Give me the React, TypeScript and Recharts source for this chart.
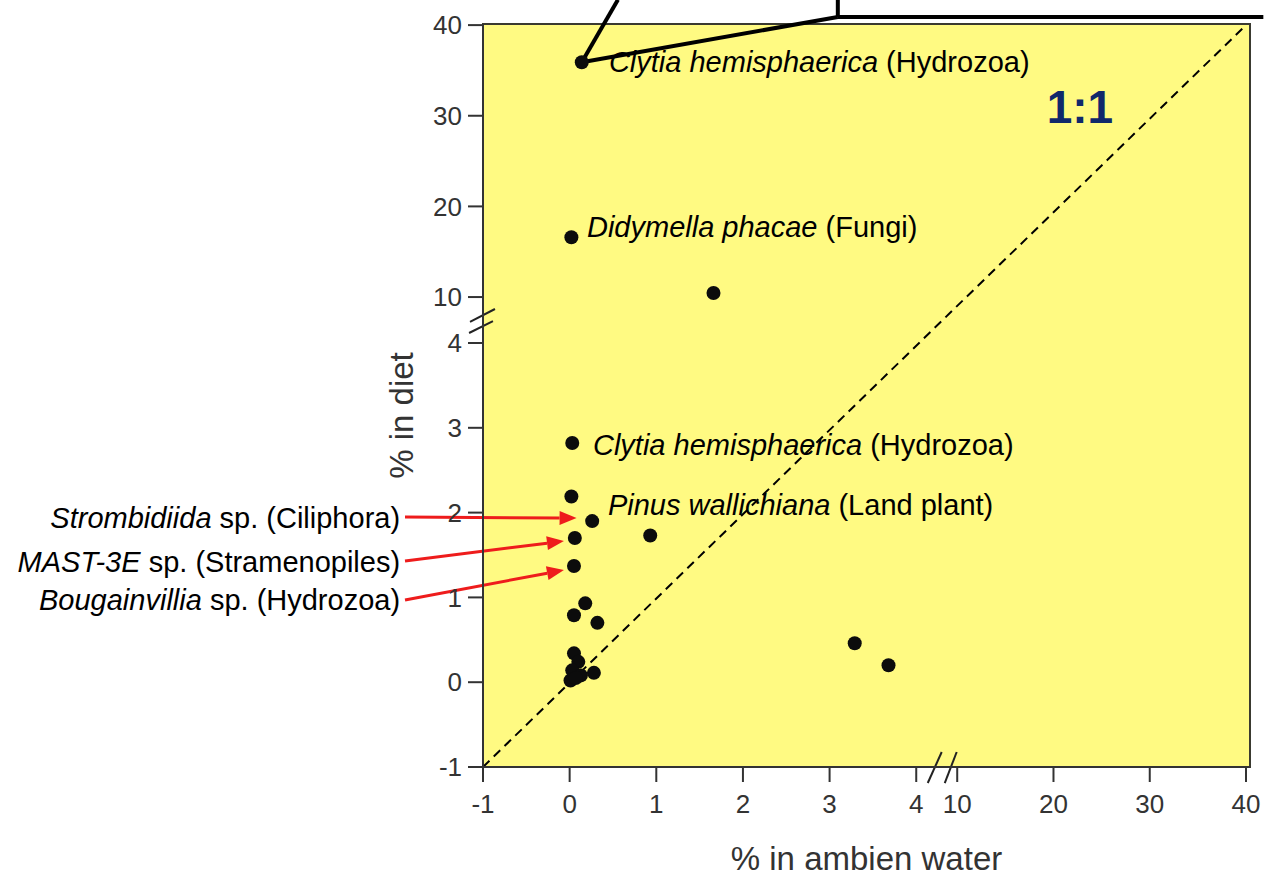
import React from 'react';
import { ScatterChart, Scatter, XAxis, YAxis, ReferenceArea, ReferenceLine, ReferenceDot } from 'recharts';

// ---- broken-axis mapping (value -> plotted unit) ----
const LOW_MAX = 4;
const X_GAP = 0.473;
const X_HIGH_SCALE = 0.1111;
const Y_GAP = 0.542;
const Y_HIGH_SCALE = 0.1069;
const tx = (v: number) => (v <= LOW_MAX ? v : LOW_MAX + X_GAP + (v - 10) * X_HIGH_SCALE);
const ty = (v: number) => (v <= LOW_MAX ? v : LOW_MAX + Y_GAP + (v - 10) * Y_HIGH_SCALE);

const X_MAX = 7.852;
const Y_MAX = 7.762;

// ---- tick labels ----
const xTickLabels = [-1, 0, 1, 2, 3, 4, 10, 20, 30, 40];
const yTickLabels = [-1, 0, 1, 2, 3, 4, 10, 20, 30, 40];

// ---- series values ----
const ambientWater = [0.14, 0.02, 1.66, 0.03, 0.02, 0.26, 0.93, 0.06, 0.05, 0.05, 0.18, 0.32, 3.29, 3.68, 0.05, 0.1, 0.03, 0.13, 0.28, 0.01, 0.07];
const diet = [35.9, 16.6, 10.44, 2.82, 2.19, 1.9, 1.73, 1.7, 1.37, 0.79, 0.93, 0.7, 0.46, 0.2, 0.34, 0.24, 0.14, 0.08, 0.11, 0.02, 0.05];

// ---- annotations ----
const speciesItalic = ['Clytia hemisphaerica', 'Didymella phacae', 'Clytia hemisphaerica', 'Pinus wallichiana', 'Strombidiida', 'MAST-3E', 'Bougainvillia'];
const speciesRest = [' (Hydrozoa)', ' (Fungi)', ' (Hydrozoa)', ' (Land plant)', ' sp. (Ciliphora)', ' sp. (Stramenopiles)', ' sp. (Hydrozoa)'];
const speciesX = [0.453, 0.2, 0.269, 0.442, -1.957, -1.957, -1.957];
const speciesY = [34.82, 16.62, 2.679, 1.972, 1.818, 1.3, 0.851];
const speciesAnchor = ['start', 'start', 'start', 'start', 'end', 'end', 'end'];

const arrowFrom = [[-1.9, 1.948], [-1.9, 1.429], [-1.9, 0.969]];
const arrowTo = [[0.08, 1.936], [-0.066, 1.665], [-0.066, 1.323]];

// callout lines (real units)
const calloutSegments = [
  [[0.14, 35.9], [0.557, 42.8]],
  [[0.14, 35.9], [3.095, 40.9]],
  [[3.095, 40.9], [3.095, 42.8]],
  [[3.095, 40.9], [41.8, 40.9]],
];

// axis break marks (plotted units, inside the gaps)
const breakSegments = [
  [[-1.15, 4.248], [-0.862, 4.401]],
  [[-1.161, 4.118], [-0.885, 4.259]],
  [[4.133, -1.189], [4.294, -0.823]],
  [[4.329, -1.189], [4.467, -0.823]],
];

const FONT = 'Liberation Sans, Arial, Helvetica, sans-serif';

const points = ambientWater.map((v, i) => ({ px: tx(v), py: ty(diet[i]) }));
const xTicks = xTickLabels.map(tx);
const yTicks = yTickLabels.map(ty);

const fmt = (ticks: number[], labels: number[]) => (v: number) => {
  const i = ticks.findIndex((t) => Math.abs(t - v) < 1e-6);
  return i >= 0 ? String(labels[i]) : '';
};

const ArrowShape = (p: any) => {
  const { x1, y1, x2, y2 } = p;
  const ang = Math.atan2(y2 - y1, x2 - x1);
  const L = 17;
  const W = 7;
  const bx = x2 - L * Math.cos(ang);
  const by = y2 - L * Math.sin(ang);
  const nx = -Math.sin(ang) * W;
  const ny = Math.cos(ang) * W;
  return (
    <g>
      <line x1={x1} y1={y1} x2={bx} y2={by} stroke="#ee1c1c" strokeWidth={3} />
      <polygon points={`${x2},${y2} ${bx + nx},${by + ny} ${bx - nx},${by - ny}`} fill="#ee1c1c" />
    </g>
  );
};

const Dot = (p: any) => <circle cx={p.cx} cy={p.cy} r={7} fill="#0c0c0c" />;

export default function App() {
  return (
    <div style={{ position: 'fixed', left: 0, top: 0, width: 1264, height: 879, overflow: 'hidden', background: '#fff' }}>
      <ScatterChart width={1264} height={879} margin={{ top: 24, right: 14, left: 423, bottom: 62 }}>
        <ReferenceArea x1={-1} x2={X_MAX} y1={-1} y2={Y_MAX} fill="#FFFA82" fillOpacity={1} stroke="#3a3a30" strokeWidth={2} ifOverflow="visible" />
        <XAxis
          type="number"
          dataKey="px"
          domain={[-1, X_MAX]}
          ticks={xTicks}
          interval={0}
          allowDataOverflow
          tickFormatter={fmt(xTicks, xTickLabels)}
          height={50}
          tickSize={15}
          tickMargin={13}
          axisLine={{ stroke: '#333', strokeWidth: 2 }}
          tickLine={{ stroke: '#333', strokeWidth: 2 }}
          tick={{ fill: '#333', fontSize: 26, fontFamily: FONT }}
          label={{
            content: (lp: any) => {
              const vb = lp.viewBox;
              return (
                <text x={vb.x + vb.width / 2} y={870} textAnchor="middle" fill="#333" fontSize={33} fontFamily={FONT}>
                  % in ambien water
                </text>
              );
            },
          }}
        />
        <YAxis
          type="number"
          dataKey="py"
          domain={[-1, Y_MAX]}
          ticks={yTicks}
          interval={0}
          allowDataOverflow
          tickFormatter={fmt(yTicks, yTickLabels)}
          width={60}
          tickSize={15}
          tickMargin={6}
          axisLine={{ stroke: '#333', strokeWidth: 2 }}
          tickLine={{ stroke: '#333', strokeWidth: 2 }}
          tick={{ fill: '#333', fontSize: 26, fontFamily: FONT }}
          label={{
            content: (lp: any) => {
              const vb = lp.viewBox;
              const x = vb.x - 10;
              const y = vb.y + vb.height / 2 + 20;
              return (
                <text x={x} y={y} transform={`rotate(-90, ${x}, ${y})`} textAnchor="middle" fill="#333" fontSize={33} fontFamily={FONT}>
                  % in diet
                </text>
              );
            },
          }}
        />
        <ReferenceLine
          segment={[{ x: tx(-1), y: ty(-1) }, { x: tx(40), y: ty(40) }]}
          stroke="#000"
          strokeWidth={2}
          strokeDasharray="9 6"
          ifOverflow="visible"
        />
        {breakSegments.map((s, i) => (
          <ReferenceLine key={'b' + i} segment={[{ x: s[0][0], y: s[0][1] }, { x: s[1][0], y: s[1][1] }]} stroke="#222" strokeWidth={2} ifOverflow="visible" />
        ))}
        {calloutSegments.map((s, i) => (
          <ReferenceLine key={'c' + i} segment={[{ x: tx(s[0][0]), y: ty(s[0][1]) }, { x: tx(s[1][0]), y: ty(s[1][1]) }]} stroke="#000" strokeWidth={4} ifOverflow="visible" />
        ))}
        {arrowFrom.map((f, i) => (
          <ReferenceLine
            key={'a' + i}
            segment={[{ x: tx(f[0]), y: ty(f[1]) }, { x: tx(arrowTo[i][0]), y: ty(arrowTo[i][1]) }]}
            ifOverflow="visible"
            shape={ArrowShape}
          />
        ))}
        <Scatter data={points} isAnimationActive={false} shape={Dot} />
        {speciesItalic.map((it, i) => (
          <ReferenceDot
            key={'l' + i}
            x={tx(speciesX[i])}
            y={ty(speciesY[i])}
            r={1}
            ifOverflow="visible"
            shape={(p: any) => (
              <text x={p.cx} y={p.cy} textAnchor={speciesAnchor[i] as any} fontSize={29} fontFamily={FONT} fill="#000">
                <tspan fontStyle="italic">{it}</tspan>
                <tspan>{speciesRest[i]}</tspan>
              </text>
            )}
          />
        ))}
        <ReferenceDot
          x={tx(19.29)}
          y={ty(29.19)}
          r={1}
          ifOverflow="visible"
          shape={(p: any) => (
            <text x={p.cx} y={p.cy} fontSize={46} fontWeight="bold" fontFamily={FONT} fill="#10286b">
              1:1
            </text>
          )}
        />
      </ScatterChart>
    </div>
  );
}
